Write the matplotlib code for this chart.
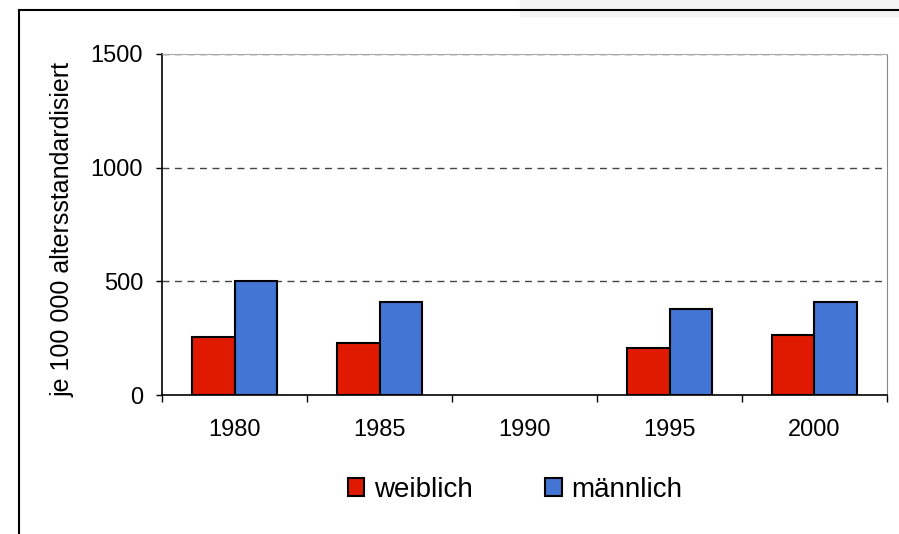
import numpy as np
import matplotlib
matplotlib.use("Agg")
import matplotlib.pyplot as plt
from matplotlib.lines import Line2D
from matplotlib.patches import Rectangle

plt.rcParams['font.family'] = ['Liberation Sans', 'DejaVu Sans']

# data
years = ['1980', '1985', '1990', '1995', '2000']
weiblich = [254, 228, 0, 206, 263]
maennlich = [500, 408, 0, 377, 408]
yticks = [0, 500, 1000, 1500]

fig = plt.figure(figsize=(8.99, 5.34), dpi=100)
W, H = 899, 534

# outer frame and grey strip top right
fig.patches.append(Rectangle((520 / W, 1 - 16 / H), 1 - 520 / W, 16 / H,
                             transform=fig.transFigure, color='#f4f4f4', zorder=0))
fig.lines.append(Line2D([19 / W, 19 / W], [0, 1 - 10 / H], transform=fig.transFigure, color='black', lw=1.5))
fig.lines.append(Line2D([19 / W, 1], [1 - 10 / H, 1 - 10 / H], transform=fig.transFigure, color='black', lw=1.5))

ax = fig.add_axes([162 / W, 1 - 395 / H, (887 - 162) / W, (395 - 54) / H])

x = np.arange(len(years))
w = 0.29
# 1990 has no data -> no bars
mask = [i for i in range(len(years)) if weiblich[i] > 0]
ax.bar(x[mask] - w / 2, [weiblich[i] for i in mask], w, color='#e01a00', edgecolor='black', lw=1.5, label='weiblich', zorder=3)
ax.bar(x[mask] + w / 2, [maennlich[i] for i in mask], w, color='#4275d4', edgecolor='black', lw=1.5, label='männlich', zorder=3)

ax.set_xlim(-0.5, len(years) - 0.5)
ax.set_ylim(0, 1500)
ax.set_yticks(yticks)
ax.set_yticklabels([str(t) for t in yticks], fontsize=17)
ax.set_xticks(x)
ax.set_xticklabels(years, fontsize=17)
ax.set_xticks(np.arange(len(years) + 1) - 0.5, minor=True)
ax.tick_params(axis='x', which='major', length=0, pad=17)
ax.tick_params(axis='x', which='minor', length=5, direction='out', width=1)
ax.tick_params(axis='y', length=4.5, direction='out', width=1, pad=9)

for t in yticks[1:]:
    ax.axhline(t, color='#444444', lw=1, ls=(0, (5, 4)), zorder=1)

ax.spines['left'].set_linewidth(1.2)
ax.spines['bottom'].set_linewidth(1.2)
ax.spines['right'].set_color('#888888')
ax.spines['top'].set_color('#aaaaaa')

fig.text(63 / W, 1 - 230 / H, 'je 100 000 altersstandardisiert', rotation=90,
         ha='center', va='center', fontsize=18)

fig.legend(loc='center', bbox_to_anchor=(515 / W, 1 - 490 / H), ncol=2, frameon=False,
           fontsize=20, handlelength=0.6, handleheight=0.6, handletextpad=0.35, columnspacing=2.6)

fig.savefig('out.png', dpi=100)
